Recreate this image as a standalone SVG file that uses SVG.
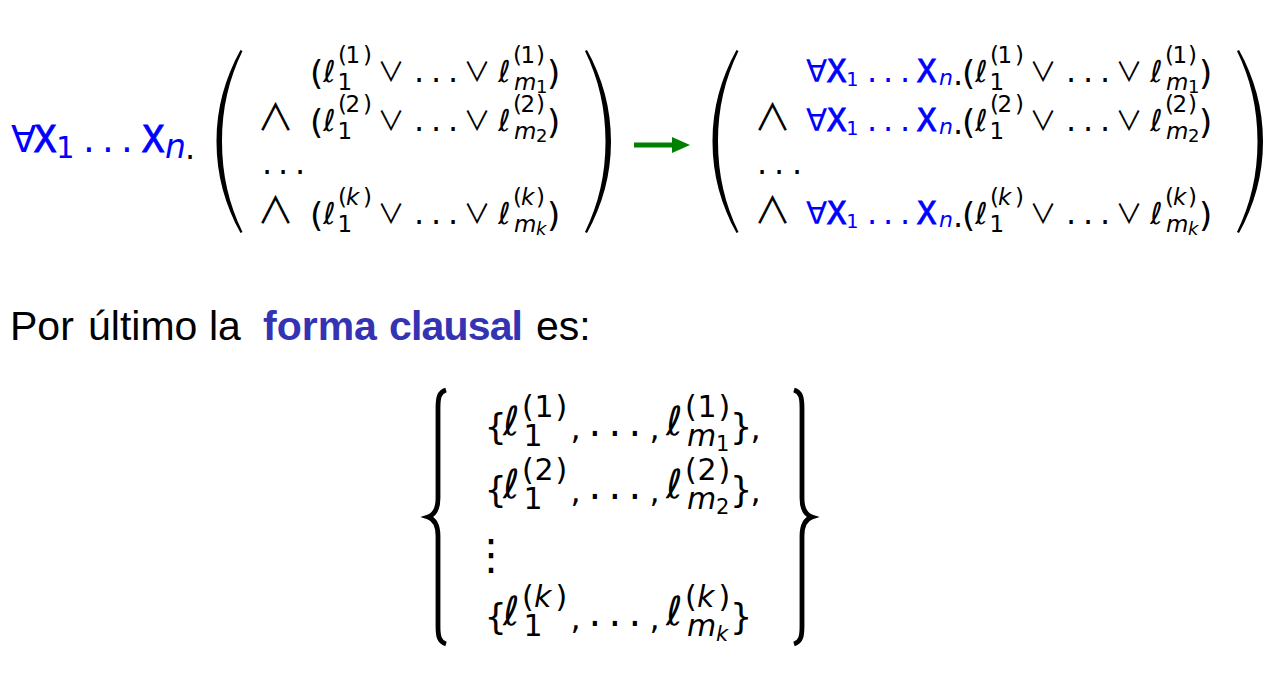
<svg xmlns="http://www.w3.org/2000/svg" width="1282" height="698" viewBox="0 0 1282 698">
<style>
text { font-family: "DejaVu Sans", sans-serif; fill: #000; }
.tt { font-family: "DejaVu Sans Mono", monospace; }
.xb { stroke: #0000ff; stroke-width: 0.9px; }
.it { font-style: italic; }
.blue { fill: #0000ff; }
.par { font-size: 34px; }
.ell { font-size: 30px; font-style: italic; }
.sp { font-size: 23px; }
.ss { font-size: 18px; }
.op { font-family: "Noto Sans CJK JP", "DejaVu Sans", sans-serif; font-size: 27px; }
.and { font-family: "Noto Sans CJK JP", "DejaVu Sans", sans-serif; font-size: 37px; }
.dt { font-size: 32px; }
.prose { font-family: "Liberation Sans", Arial, sans-serif; font-size: 41px; }
.em { font-weight: bold; fill: #3333b3; }
.brace { fill: none; stroke: #000; stroke-width: 4.8; }
</style>
<defs>
<path id="lpar" d="M240.5,50 C225,78 216.5,108 216.5,141.5 C216.5,175 225,205 240.5,233 L242.5,232 C229,204 222,175 222,141.5 C222,108 229,79 242.5,51 Z" fill="#000"/>
<path id="lbrace" class="brace" d="M446,390 C439,392 438,398 438,408 L438,498 C438,509 434,515 428,517 C434,519 438,525 438,536 L438,626 C438,636 439,642 446,644"/>
<marker id="ah" markerUnits="userSpaceOnUse" markerWidth="18" markerHeight="16" refX="0" refY="8" orient="auto"><path d="M0,0 L18,8 L0,16 Z" fill="#008000"/></marker>
<g id="cl1">
<text class="par" x="310" y="85">(</text>
<text class="ell" x="323" y="82">ℓ</text>
<text class="sp" x="338 345.5 363" y="63">(1)</text>
<text class="sp" x="337.5" y="90">1</text>
<text class="op" x="377.5" y="81.5">∨</text>
<text class="dt" x="414 431 448" y="82">...</text>
<text class="op" x="463.5" y="81.5">∨</text>
<text class="ell" x="498" y="82">ℓ</text>
<text class="sp" x="513 520.5 536" y="63">(1)</text>
<text class="sp it" x="514" y="90">m</text>
<text class="ss" x="536" y="93">1</text>
<text class="par" x="547" y="85">)</text>
</g>
<g id="cl2">
<text class="par" x="310" y="134">(</text>
<text class="ell" x="323" y="131">ℓ</text>
<text class="sp" x="338 345.5 363" y="112">(2)</text>
<text class="sp" x="337.5" y="139">1</text>
<text class="op" x="377.5" y="130.5">∨</text>
<text class="dt" x="414 431 448" y="131">...</text>
<text class="op" x="463.5" y="130.5">∨</text>
<text class="ell" x="498" y="131">ℓ</text>
<text class="sp" x="513 520.5 536" y="112">(2)</text>
<text class="sp it" x="514" y="139">m</text>
<text class="ss" x="536" y="142">2</text>
<text class="par" x="547" y="134">)</text>
</g>
<g id="clk">
<text class="par" x="310" y="227">(</text>
<text class="ell" x="323" y="224">ℓ</text>
<text class="sp" y="205"><tspan x="338">(</tspan><tspan x="346" class="it">k</tspan><tspan x="363">)</tspan></text>
<text class="sp" x="337.5" y="232">1</text>
<text class="op" x="377.5" y="223.5">∨</text>
<text class="dt" x="414 431 448" y="224">...</text>
<text class="op" x="463.5" y="223.5">∨</text>
<text class="ell" x="498" y="224">ℓ</text>
<text class="sp" y="205"><tspan x="513">(</tspan><tspan x="521" class="it">k</tspan><tspan x="536">)</tspan></text>
<text class="sp it" x="514" y="232">m</text>
<text class="ss it" x="536" y="235">k</text>
<text class="par" x="547" y="227">)</text>
</g>
<g id="q">
<text class="blue" x="806" y="82" font-size="31">∀</text>
<text class="tt xb blue" x="827" y="82" font-size="32">X</text>
<text class="tt blue" x="846" y="86" font-size="20">1</text>
<text class="blue dt" x="867 883 900" y="82">...</text>
<text class="tt xb blue" x="917" y="82" font-size="32">X</text>
<text class="blue it" x="939" y="85" font-size="22">n</text>
<text class="dt" x="953" y="85">.</text>
</g>
</defs>

<g id="lhs">
<text class="blue" x="11" y="152" font-size="37">∀</text>
<text class="tt xb blue" x="34" y="152" font-size="37">X</text>
<text class="tt blue" x="55.7" y="158" font-size="30">1</text>
<text class="blue" x="83 102 121" y="152" font-size="37">...</text>
<text class="tt xb blue" x="142" y="152" font-size="37">X</text>
<text class="blue it" x="165" y="158" font-size="33">n</text>
<text x="185" y="158.7" font-size="32">.</text>
<use href="#lpar"/>
<use href="#lpar" transform="translate(827.5,0) scale(-1,1)"/>
<use href="#cl1"/>
<use href="#cl2"/>
<use href="#clk"/>
<text class="and" x="257" y="131">∧</text>
<text class="dt" x="262 278 295" y="174">...</text>
<text class="and" x="257" y="224">∧</text>
</g>

<g id="connectors">
<line x1="634" y1="145" x2="672" y2="145" stroke="#008000" stroke-width="5" marker-end="url(#ah)"/>
</g>

<g id="rhs">
<use href="#lpar" transform="translate(496,0)"/>
<use href="#lpar" transform="translate(1479.5,0) scale(-1,1)"/>
<use href="#q"/>
<use href="#q" y="49"/>
<use href="#q" y="142"/>
<use href="#cl1" x="652"/>
<use href="#cl2" x="652"/>
<use href="#clk" x="652"/>
<text class="and" x="754" y="131">∧</text>
<text class="dt" x="757 774 792" y="174">...</text>
<text class="and" x="754" y="224">∧</text>
</g>

<g id="sentence">
<text class="prose" y="340"><tspan x="10">Por</tspan> <tspan x="88">último</tspan> <tspan x="209">la</tspan> <tspan x="263" class="em">forma</tspan> <tspan x="389" class="em" textLength="134">clausal</tspan> <tspan x="536">es:</tspan></text>
</g>

<g id="set">
<use href="#lbrace"/>
<use href="#lbrace" transform="translate(1240,0) scale(-1,1)"/>
<g id="s1">
<text x="484.5" y="438.5" font-size="35">{</text>
<text class="it" x="503" y="435" font-size="40">ℓ</text>
<text x="522 534.5 555.5" y="417" font-size="30">(1)</text>
<text x="523.5" y="446" font-size="30">1</text>
<text x="570.4" y="439" font-size="32">,</text>
<text x="588.6 608.6 628.6" y="435.5" font-size="40">...</text>
<text x="649.4" y="439" font-size="32">,</text>
<text class="it" x="666" y="435" font-size="40">ℓ</text>
<text x="685 697.5 718.5" y="417" font-size="30">(1)</text>
<text class="it" x="687" y="446" font-size="30">m</text>
<text x="716" y="451" font-size="21">1</text>
<text x="730" y="438.5" font-size="35">}</text>
<text x="750.4" y="439" font-size="32">,</text>
</g>
<g id="s2" transform="translate(0,63)">
<text x="484.5" y="438.5" font-size="35">{</text>
<text class="it" x="503" y="435" font-size="40">ℓ</text>
<text x="522 534.5 555.5" y="417" font-size="30">(2)</text>
<text x="523.5" y="446" font-size="30">1</text>
<text x="570.4" y="439" font-size="32">,</text>
<text x="588.6 608.6 628.6" y="435.5" font-size="40">...</text>
<text x="649.4" y="439" font-size="32">,</text>
<text class="it" x="666" y="435" font-size="40">ℓ</text>
<text x="685 697.5 718.5" y="417" font-size="30">(2)</text>
<text class="it" x="687" y="446" font-size="30">m</text>
<text x="716" y="451" font-size="21">2</text>
<text x="730" y="438.5" font-size="35">}</text>
<text x="750.4" y="439" font-size="32">,</text>
</g>
<text x="491" y="569" font-size="42" text-anchor="middle">⋮</text>
<g id="sk" transform="translate(0,190)">
<text x="484.5" y="438.5" font-size="35">{</text>
<text class="it" x="503" y="435" font-size="40">ℓ</text>
<text y="417" font-size="30"><tspan x="522">(</tspan><tspan x="534" class="it">k</tspan><tspan x="555.5">)</tspan></text>
<text x="523.5" y="446" font-size="30">1</text>
<text x="570.4" y="439" font-size="32">,</text>
<text x="588.6 608.6 628.6" y="435.5" font-size="40">...</text>
<text x="649.4" y="439" font-size="32">,</text>
<text class="it" x="666" y="435" font-size="40">ℓ</text>
<text y="417" font-size="30"><tspan x="685">(</tspan><tspan x="697" class="it">k</tspan><tspan x="718.5">)</tspan></text>
<text class="it" x="687" y="446" font-size="30">m</text>
<text class="it" x="716" y="451" font-size="21">k</text>
<text x="730" y="438.5" font-size="35">}</text>
</g>
</g>
</svg>
